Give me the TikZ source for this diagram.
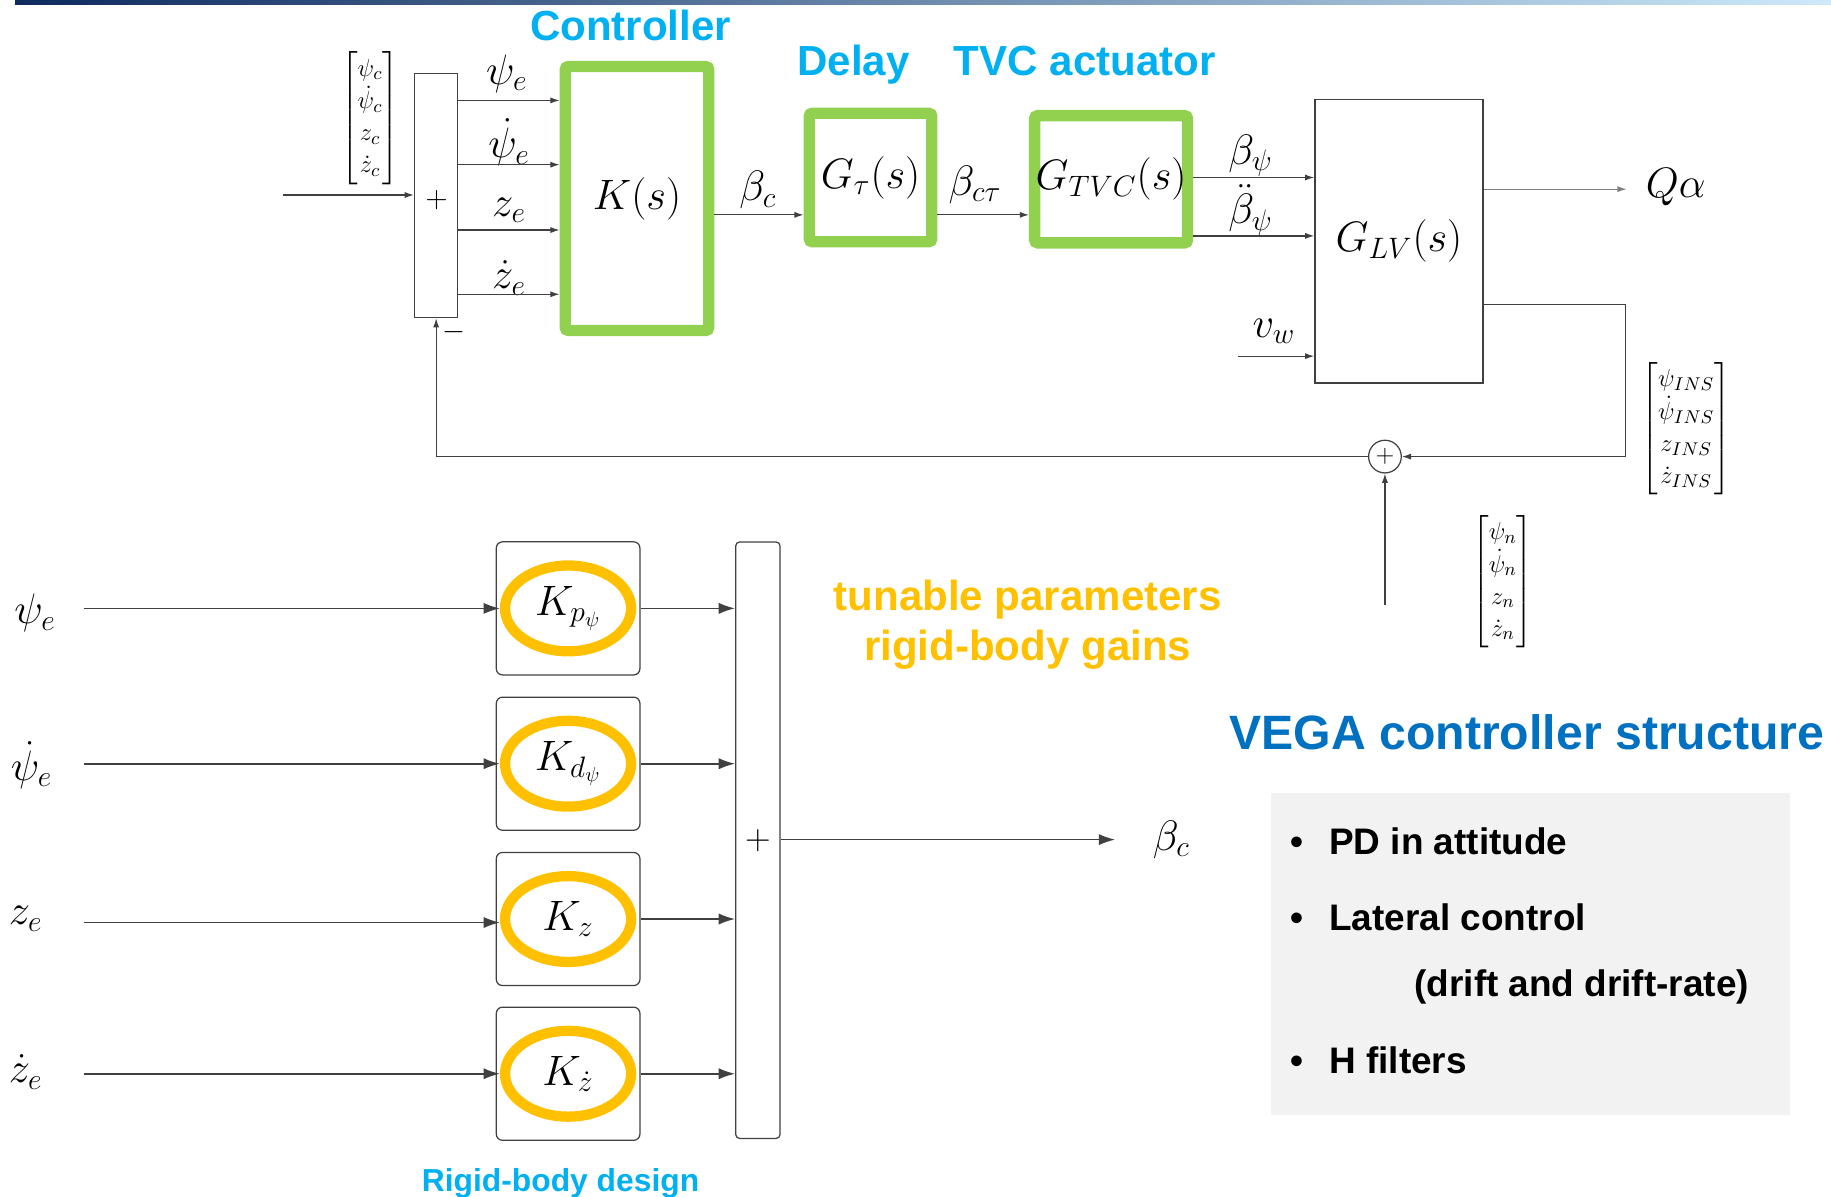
\documentclass[tikz,border=0pt]{standalone}
\usepackage{amsmath}
\usepackage[no-math]{fontspec}
\newfontfamily\arialfont{Liberation Sans}
\usetikzlibrary{arrows.meta, positioning, shapes.geometric}

\definecolor{ctrlgreen}{RGB}{146,208,80}
\definecolor{gainorange}{RGB}{255,192,0}
\definecolor{capcyan}{RGB}{0,176,240}
\definecolor{capblue}{RGB}{0,112,192}
\definecolor{barnavy}{RGB}{14,42,94}
\definecolor{barlight}{RGB}{205,233,250}
\definecolor{notegray}{RGB}{242,242,242}

\begin{document}
\begin{tikzpicture}[x=0.02cm, y=-0.02cm,
  wire/.style = {color=black!75, line width=0.6pt},
  sig/.style = {wire, -{Latex[length=4.5pt, width=3pt]}},
  gsig/.style = {wire, line width=0.8pt, -{Latex[length=8pt, width=5.5pt]}},
  tfblock/.style = {draw=ctrlgreen, line width=5.5pt, rounded corners=1.5pt, inner sep=0pt, font=\fontsize{20}{24}\selectfont},
  plantblock/.style = {draw, wire, text=black, inner sep=0pt, font=\fontsize{20}{24}\selectfont},
  gainbox/.style = {draw, wire, rounded corners=3pt, minimum width=2.46cm, minimum height=2.28cm},
  gainring/.style = {ellipse, draw=gainorange, line width=5pt, minimum width=2.16cm, minimum height=1.47cm, inner sep=0pt, font=\fontsize{20}{24}\selectfont},
  siglabel/.style = {font=\fontsize{20}{24}\selectfont},
  veclabel/.style = {font=\fontsize{13}{15.6}\selectfont},
  sign/.style = {font=\fontsize{14}{16}\selectfont, inner sep=0pt},
  heading/.style = {font=\arialfont\bfseries\fontsize{20.5}{24}\selectfont, text=capcyan, inner sep=0pt},
  bulletline/.style = {anchor=base west, inner sep=0pt, font=\arialfont\bfseries\fontsize{18}{21.6}\selectfont}]

\useasboundingbox (0,0) rectangle (1568,1025);
\shade [left color=barnavy, right color=barlight] (13,0) rectangle (1568,3.5);

% loop with controller, delay, actuator and launcher
\node (sum1) at (373.5,167.5) [draw, wire, minimum width=0.74cm, minimum height=4.18cm] {};
\node (plus1) at (374,171) [sign] {$+$};
\node (minus1) at (389,284) [sign] {$-$};
\node (K) at (545.5,170) [tfblock, minimum width=2.46cm, minimum height=4.52cm] {$K(s)$};
\node (Dly) at (745.5,152) [tfblock, minimum width=2.1cm, minimum height=2.2cm] {$G_\tau(s)$};
\node (TVC) at (951.5,153.5) [tfblock, minimum width=2.62cm, minimum height=2.18cm] {$G_{TVC}(s)$};
\node (GLV) at (1198,206.5) [plantblock, minimum width=2.88cm, minimum height=4.86cm] {$G_{LV}(s)$};
\node (sumc) at (1186,391) [circle, draw, wire, text=black, inner sep=0pt, minimum size=0.56cm, font=\fontsize{12}{14}\selectfont] {$+$};

\node (capK) at (540,22) [heading] {Controller};
\node (capD) at (731,55) [heading] {Delay};
\node (capT) at (929,52) [heading] {TVC actuator};

\node (vecc) at (317,101) [veclabel] {$\begin{bmatrix}\psi_c\\ \dot\psi_c\\ z_c\\ \dot z_c\end{bmatrix}$};
\node (vecins) at (1444,367) [veclabel] {$\begin{bmatrix}\psi_{INS}\\ \dot\psi_{INS}\\ z_{INS}\\ \dot z_{INS}\end{bmatrix}$};
\node (vecn) at (1287,498) [veclabel] {$\begin{bmatrix}\psi_n\\ \dot\psi_n\\ z_n\\ \dot z_n\end{bmatrix}$};

\node (le1) at (434,63) [siglabel] {$\psi_e$};
\node (le2) at (436,122) [siglabel] {$\dot\psi_e$};
\node (le3) at (436,180) [siglabel] {$z_e$};
\node (le4) at (436,238) [siglabel] {$\dot z_e$};
\node (lbc) at (649,163) [siglabel] {$\beta_c$};
\node (lbct) at (835,158) [siglabel] {$\beta_{c\tau}$};
\node (lbp) at (1071,133) [siglabel] {$\beta_\psi$};
\node (lbpp) at (1071,180) [siglabel] {$\ddot\beta_\psi$};
\node (lvw) at (1091,284) [siglabel] {$v_w$};
\node (lqa) at (1435,160) [siglabel] {$Q\alpha$};

\coordinate (cin) at (242,167);
\coordinate (qa) at (1393,162);
\coordinate (vw) at (1060,305);
\coordinate (fbr) at (1392,261);
\coordinate (nin) at (1186,518);

\path
  (cin) edge [sig] (sum1.west |- cin)
  (sum1.east |- 0,86) edge [sig] (K.west |- 0,86)
  (sum1.east |- 0,141) edge [sig] (K.west |- 0,141)
  (sum1.east |- 0,197) edge [sig] (K.west |- 0,197)
  (sum1.east |- 0,252) edge [sig] (K.west |- 0,252)
  (K.east |- 0,184) edge [sig] (Dly.west |- 0,184)
  (Dly.east |- 0,184) edge [sig] (TVC.west |- 0,184)
  (TVC.east |- 0,152) edge [sig] (GLV.west |- 0,152)
  (TVC.east |- 0,202) edge [sig] (GLV.west |- 0,202)
  (vw) edge [sig] (GLV.west |- vw)
  (nin) edge [sig] (sumc.south);
\draw [sig, color=black!50] (GLV.east |- qa) -- (qa);
\draw [sig] (GLV.east |- fbr) -- (fbr) -- (fbr |- sumc) -- (sumc.east);
\draw [sig] (sumc.west) -- (sum1.south |- sumc) -- (sum1.south);

% rigid-body gains
\node (g1) at (486.5,521) [gainbox] {};
\node (g2) at (486.5,654) [gainbox] {};
\node (g3) at (486.5,787) [gainbox] {};
\node (g4) at (486.5,919.5) [gainbox] {};
\node (k1) at (g1.center) [gainring] {$K_{p_\psi}$};
\node (k2) at (g2.center) [gainring] {$K_{d_\psi}$};
\node (k3) at (g3.center) [gainring] {$K_z$};
\node (k4) at (g4.center) [gainring] {$K_{\dot z}$};
\node (sum2) at (649,719.5) [draw, wire, text=black, rounded corners=2pt, inner sep=0pt, minimum width=0.76cm, minimum height=10.22cm, font=\fontsize{16}{18}\selectfont] {$+$};

\node (li1) at (30,525) [siglabel] {$\psi_e$};
\node (li2) at (27,655) [siglabel] {$\dot\psi_e$};
\node (li3) at (22,787) [siglabel] {$z_e$};
\node (li4) at (22,918) [siglabel] {$\dot z_e$};
\node (lbo) at (1003,719) [siglabel] {$\beta_c$};

\coordinate (in1) at (72,521);
\coordinate (in2) at (72,654);
\coordinate (in3) at (72,790);
\coordinate (in4) at (72,919.5);
\coordinate (bout) at (955,719);

\path
  (in1) edge [gsig] (k1.west)
  (in2) edge [gsig] (k2.west)
  (in3) edge [gsig] (k3.west |- in3)
  (in4) edge [gsig] (k4.west)
  (g1.east) edge [gsig] (sum2.west |- g1.east)
  (g2.east) edge [gsig] (sum2.west |- g2.east)
  (g3.east) edge [gsig] (sum2.west |- g3.east)
  (g4.east) edge [gsig] (sum2.west |- g4.east)
  (sum2.east |- bout) edge [gsig] (bout);

\node (captune) at (880,523) [heading, text=gainorange, anchor=base] {tunable parameters};
\node (capgain) at (880,566) [heading, text=gainorange, anchor=base] {rigid-body gains};
\node (caprb) at (480,1020) [heading, anchor=base, font=\arialfont\bfseries\fontsize{15.5}{18}\selectfont] {Rigid-body design};

% summary box
\node (captitle) at (1307.5,627) [heading, text=capblue, font=\arialfont\bfseries\fontsize{23.5}{28}\selectfont] {VEGA controller structure};
\node (note) at (1310.5,817) [fill=notegray, inner sep=0pt, minimum width=8.9cm, minimum height=5.52cm] {};
\node (b1) at (1105,732) [bulletline] {•\hspace{12.5pt}PD in attitude};
\node (b2) at (1105,797) [bulletline] {•\hspace{12.5pt}Lateral control};
\node (b3) at (1211,853) [bulletline] {(drift and drift-rate)};
\node (b4) at (1105,919) [bulletline] {•\hspace{12.5pt}H filters};
\end{tikzpicture}
\end{document}
